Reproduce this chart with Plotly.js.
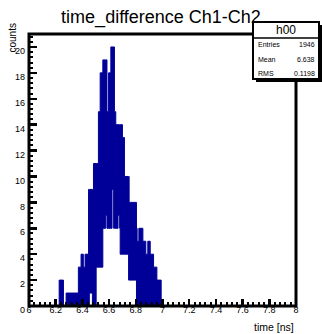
<!DOCTYPE html>
<html>
<head>
<meta charset="utf-8">
<script src="https://cdn.plot.ly/plotly-3.0.1.min.js"></script>
<style>
html,body{margin:0;padding:0;background:#fff;}
#chart{width:322px;height:334px;}
</style>
</head>
<body>
<div id="chart"></div>
<script>
// Step-envelope of the fine-binned histogram (time difference in ns)
const binEdges = [6.000, 6.226, 6.258, 6.278, 6.370, 6.390, 6.407, 6.420, 6.446, 6.452, 6.475, 6.483, 6.503, 6.520, 6.533, 6.553, 6.574, 6.584, 6.596, 6.613, 6.622, 6.634, 6.640, 6.650, 6.667, 6.679, 6.683, 6.700, 6.715, 6.746, 6.750, 6.805, 6.810, 6.823, 6.853, 6.875, 6.890, 6.908, 6.933, 6.958, 6.990, 8.000];
const upperCounts = [0,2,0,1,3,4,3,4,9,9,9,11,11,15,18,19,19,15,18,20,20,20,15,14,14,14,14,13,10,10,8,6,5,6,5,4,5,4,3,2,0];
const lowerCounts = [0,0,0,0,0,0,0,0,0,1,0,0,3,3,3,6,7,6,6,6,9,6,6,6,7,6,4,4,4,2,2,0,0,0,0,0,0,0,0,0,0];

const histTitle = "time_difference Ch1-Ch2";
const xTitle = "time [ns]";
const yTitle = "counts";
const statsName = "h00";
const statsLabels = ["Entries", "Mean", "RMS"];
const statsValues = ["1946", "6.638", "0.1198"];

const BLUE = "#000099";
const FONT = "Liberation Sans, Arial, Helvetica, sans-serif";

// pixel -> paper helpers (plot area: x 29..296, y 34..306)
const PL = 29, PR = 296, PT = 34, PB = 306;
const xp = px => (px - PL) / (PR - PL);
const yp = py => (PB - py) / (PB - PT);

const stepY = arr => arr.concat([arr[arr.length - 1]]);

const traces = [
  {
    x: binEdges, y: stepY(lowerCounts), type: "scatter", mode: "lines",
    line: {shape: "hv", color: BLUE, width: 1}, hoverinfo: "skip", showlegend: false
  },
  {
    x: binEdges, y: stepY(upperCounts), type: "scatter", mode: "lines",
    line: {shape: "hv", color: BLUE, width: 1}, fill: "tonexty", fillcolor: BLUE,
    hoverinfo: "skip", showlegend: false
  }
];

const shapes = [
  {type: "rect", xref: "paper", yref: "paper", x0: 0, x1: 1, y0: 0, y1: 1,
   line: {color: "black", width: 3}, fillcolor: "rgba(0,0,0,0)", layer: "above"},
  // stats box shadow + box
  {type: "rect", xref: "paper", yref: "paper", x0: xp(256), x1: xp(322), y0: yp(82), y1: yp(25),
   line: {width: 0}, fillcolor: "black", layer: "above"},
  {type: "rect", xref: "paper", yref: "paper", x0: xp(253), x1: xp(319), y0: yp(79), y1: yp(22),
   line: {color: "black", width: 2}, fillcolor: "white", layer: "above"},
  {type: "line", xref: "paper", yref: "paper", x0: xp(253), x1: xp(319), y0: yp(38), y1: yp(38),
   line: {color: "black", width: 1.5}, layer: "above"}
];

const annotations = [
  {text: statsName, xref: "paper", yref: "paper", x: xp(286), y: yp(30), xanchor: "center", yanchor: "middle",
   showarrow: false, font: {family: FONT, size: 12, color: "black"}},
  {text: yTitle, xref: "paper", yref: "paper", x: xp(12), y: yp(22), xanchor: "center", yanchor: "top",
   textangle: -90, showarrow: false, font: {family: FONT, size: 10, color: "black"}},
  {text: xTitle, xref: "paper", yref: "paper", x: xp(296), y: yp(327), xanchor: "right", yanchor: "middle",
   showarrow: false, font: {family: FONT, size: 10.5, color: "black"}}
];
const rowY = [45, 59.5, 73];
statsLabels.forEach((lab, i) => {
  annotations.push({text: lab, xref: "paper", yref: "paper", x: xp(256), y: yp(rowY[i]),
    xanchor: "left", yanchor: "middle", showarrow: false, font: {family: FONT, size: 7, color: "black"}});
  annotations.push({text: statsValues[i], xref: "paper", yref: "paper", x: xp(317), y: yp(rowY[i]),
    xanchor: "right", yanchor: "middle", showarrow: false, font: {family: FONT, size: 7, color: "black"}});
});

const layout = {
  width: 322, height: 334,
  margin: {l: PL, r: 322 - PR, t: PT, b: 334 - PB, pad: 0},
  paper_bgcolor: "white", plot_bgcolor: "white",
  showlegend: false,
  title: {text: histTitle, x: 0.5, xanchor: "center", y: 1 - 17/334, yanchor: "middle",
          font: {family: FONT, size: 18, color: "black"}},
  xaxis: {
    range: [6, 8], dtick: 0.2, tick0: 6, showgrid: false, zeroline: false, showline: false,
    ticks: "inside", ticklen: 7, tickwidth: 2.5, tickcolor: "black",
    minor: {dtick: 0.04, ticks: "inside", ticklen: 4, tickwidth: 2, tickcolor: "black", showgrid: false},
    tickfont: {family: FONT, size: 9, color: "black"}, ticklabelstandoff: -3, fixedrange: true
  },
  yaxis: {
    range: [0, 21], dtick: 2, tick0: 0, showgrid: false, zeroline: false, showline: false,
    ticks: "inside", ticklen: 8, tickwidth: 2.5, tickcolor: "black",
    minor: {dtick: 0.4, ticks: "inside", ticklen: 4, tickwidth: 2, tickcolor: "black", showgrid: false},
    tickfont: {family: FONT, size: 9, color: "black"}, ticklabelshift: 4, ticklabelstandoff: 3, fixedrange: true
  },
  shapes: shapes,
  annotations: annotations
};

Plotly.newPlot("chart", traces, layout, {displayModeBar: false, staticPlot: true});
</script>
</body>
</html>
